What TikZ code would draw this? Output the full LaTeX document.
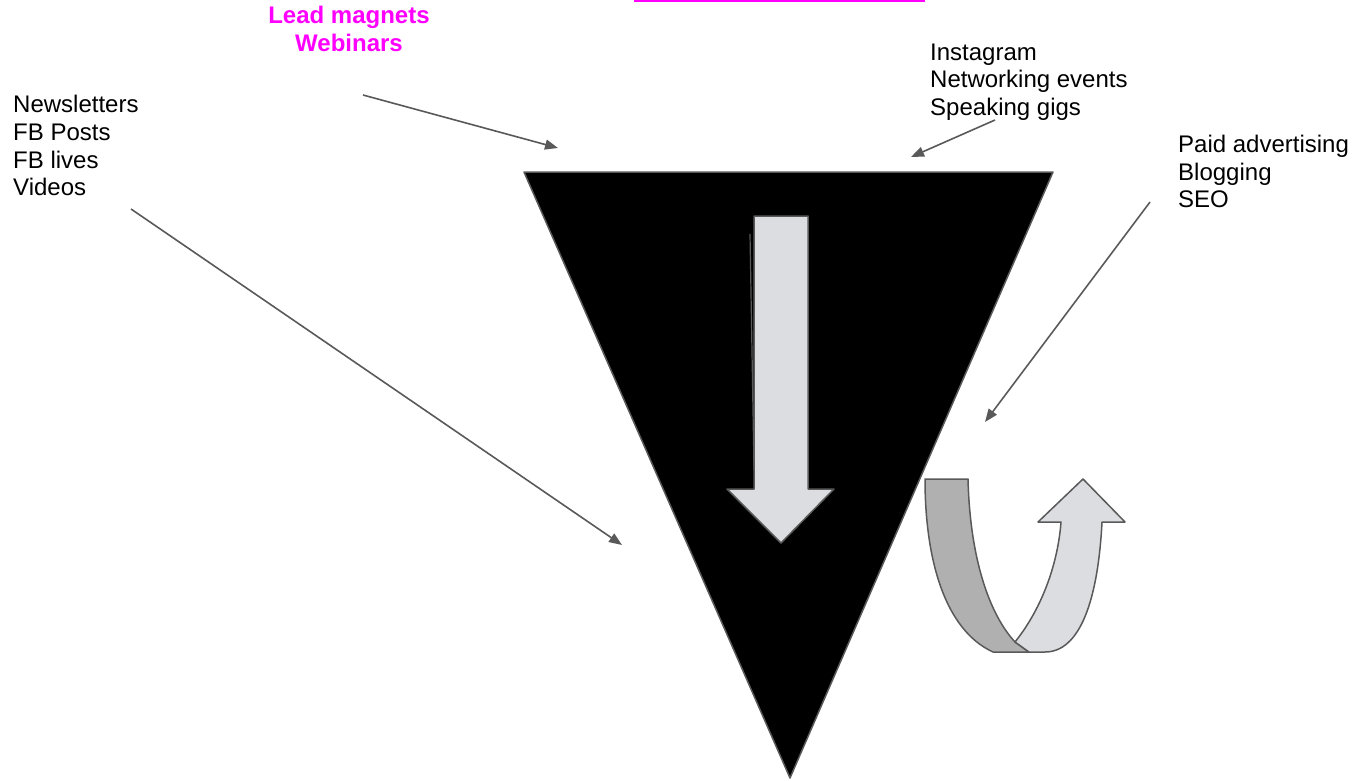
\documentclass[tikz,border=0pt]{standalone}
\usepackage{fontspec}
\setmainfont{Liberation Sans}
\usetikzlibrary{arrows.meta}
\definecolor{edgegray}{HTML}{595959}
\definecolor{lightfill}{HTML}{DCDDE0}
\definecolor{darkfill}{HTML}{B0B0B0}
\definecolor{magentatxt}{HTML}{FF00FF}
\tikzset{
  lbl/.style={anchor=base west, inner sep=0pt, font=\fontsize{24}{28}\selectfont},
  maglbl/.style={anchor=base, inner sep=0pt, text=magentatxt, font=\fontsize{24}{28}\selectfont\bfseries},
  conn/.style={draw=edgegray, line width=1.6pt, -{Triangle[length=13pt,width=10pt]}},
  shapeedge/.style={draw=edgegray, line width=1.5pt, line join=round},
}
\begin{document}
\begin{tikzpicture}[x=1pt,y=-1pt]
\useasboundingbox (0,0) rectangle (1354,781);
% magenta underline at top edge
\draw[magentatxt, line width=2.2pt] (634,1) -- (925,1);
% funnel
\filldraw[fill=black, draw=edgegray, line width=1.5pt, line join=round] (524,172) -- (1053,172) -- (790,778) -- cycle;
% down arrow
\filldraw[fill=lightfill, shapeedge] (754,216) -- (808,216) -- (808,489) -- (834,489) -- (781,543) -- (727,489) -- (754,489) -- cycle;
\draw[edgegray, line width=1.2pt] (750,234) -- (754,470);
% U-turn arrow: dark band
\filldraw[fill=darkfill, shapeedge] (925,479) -- (968,479) .. controls (970,560) and (990,615) .. (1015,642) -- (1029,652) -- (993,652) .. controls (945,630) and (925,560) .. (925,479) -- cycle;
% light band with head
\filldraw[fill=lightfill, shapeedge] (1015,642) .. controls (1043,607) and (1058,562) .. (1061,522) -- (1038,522) -- (1083,479) -- (1125,522) -- (1102,522) .. controls (1098,600) and (1080,652) .. (1045,652) -- (1029,652) -- cycle;
% texts
\node[maglbl] (lm1) at (349,24) {Lead magnets};
\node[maglbl] (lm2) at (349,52) {Webinars};
\node[lbl] (in1) at (930,60.5) {Instagram};
\node[lbl] (in2) at (930,88) {Networking events};
\node[lbl] (in3) at (930,115.5) {Speaking gigs};
\node[lbl] (nl1) at (13,113) {Newsletters};
\node[lbl] (nl2) at (13,140.5) {FB Posts};
\node[lbl] (nl3) at (13,168) {FB lives};
\node[lbl] (nl4) at (13,195.5) {Videos};
\node[lbl] (pa1) at (1178,152) {Paid advertising};
\node[lbl] (pa2) at (1178,180) {Blogging};
\node[lbl] (pa3) at (1178,207) {SEO};
% connector ends
\coordinate (lmS) at (363,95);
\coordinate (lmE) at (558,148);
\coordinate (inS) at (995,120);
\coordinate (inE) at (911,157);
\coordinate (nlS) at (131,209);
\coordinate (nlE) at (622,545);
\coordinate (paS) at (1150,202);
\coordinate (paE) at (985,422);
\draw[conn] (lmS) -- (lmE);
\draw[conn] (inS) -- (inE);
\draw[conn] (nlS) -- (nlE);
\draw[conn] (paS) -- (paE);
\end{tikzpicture}
\end{document}
